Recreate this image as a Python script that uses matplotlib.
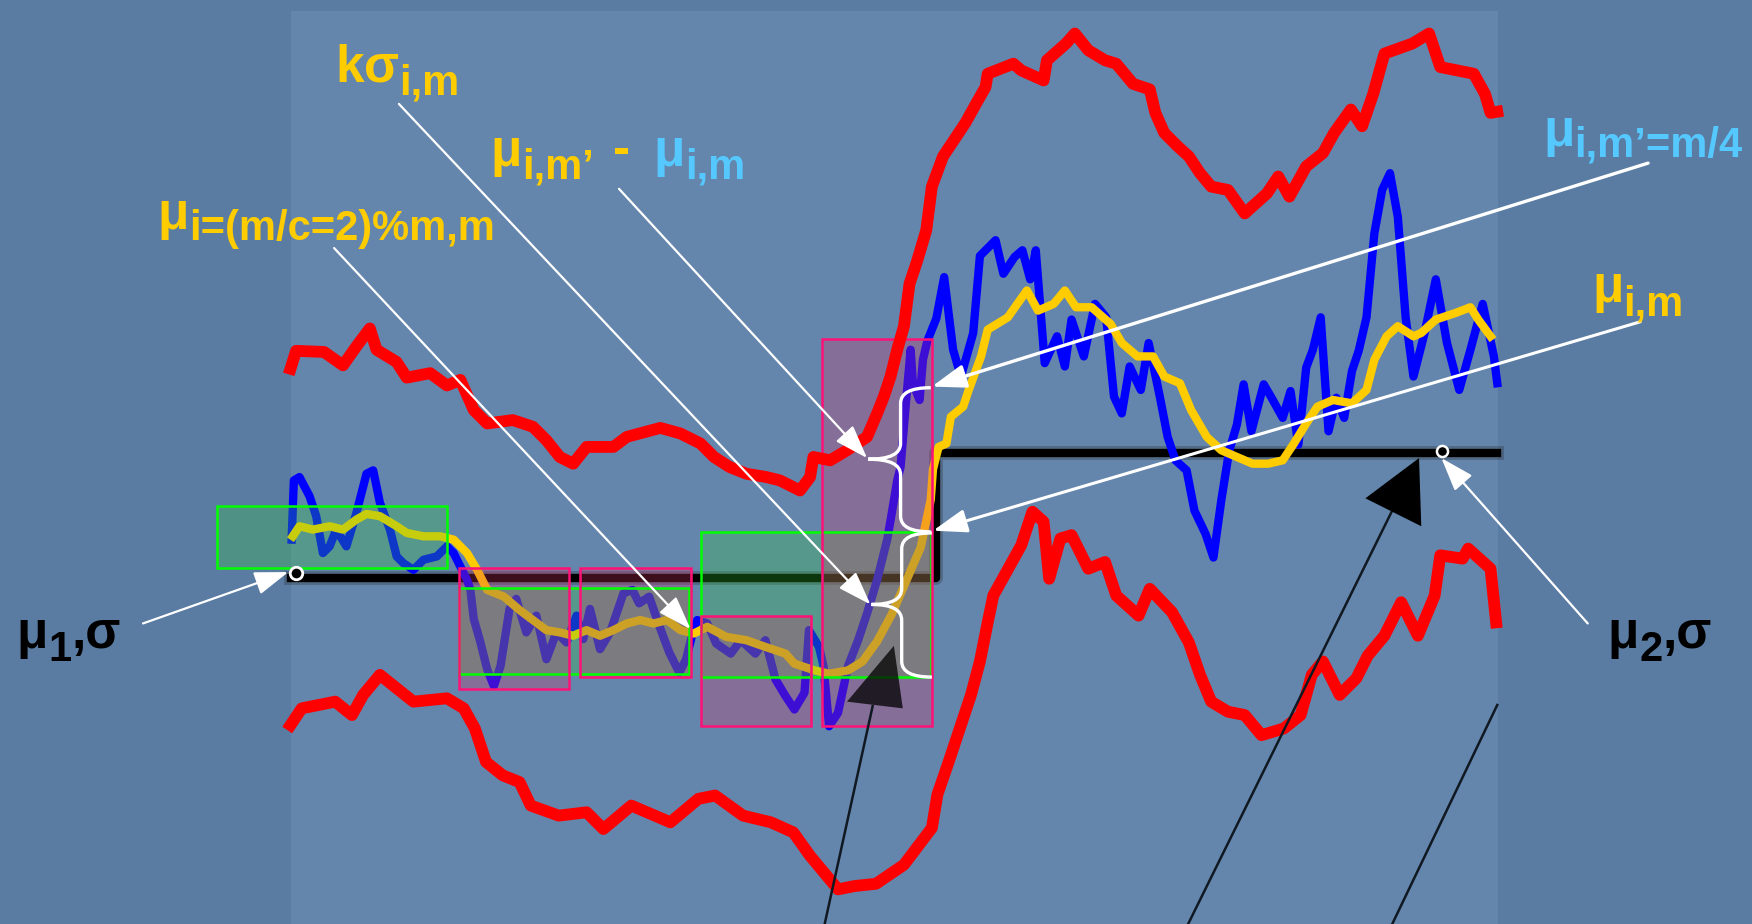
import matplotlib
matplotlib.use("Agg")
import matplotlib.pyplot as plt
from matplotlib.patches import Rectangle, Polygon, PathPatch
from matplotlib.path import Path

# ==============================
# Datos (unidades de la diapositiva, y crece hacia abajo)
# ==============================

# banda superior (mu + k*sigma)
upper_x = [260, 265, 290, 307, 319, 331, 337, 355, 364, 385, 400, 412, 424, 436, 459, 477,
           489, 501, 513, 525, 549, 561, 591, 609, 627, 639, 653, 668, 686, 698, 716, 725,
           728, 743, 758, 776, 785, 791, 797, 803, 809, 814, 821, 829, 834, 844, 854, 864,
           874, 882, 884, 907, 914, 934, 937, 954, 962, 974, 989, 999, 1014, 1029, 1034,
           1042, 1054, 1064, 1074, 1084, 1099, 1114, 1134, 1144, 1154, 1169, 1184, 1194,
           1209, 1219, 1229, 1239, 1264, 1279, 1289, 1304, 1319, 1329, 1334, 1340]
upper_y = [330, 314, 315, 327, 310, 294, 313, 324, 338, 334, 345, 340, 367, 379, 376, 382,
           394, 409, 415, 400, 400, 391, 383, 388, 397, 409, 418, 424, 427, 430, 439, 427,
           409, 412, 403, 391, 370, 355, 337, 313, 292, 254, 233, 206, 167, 140, 125, 110,
           92, 78, 66, 57, 63, 72, 54, 39, 30, 45, 54, 57, 75, 80, 101,
           119, 131, 140, 155, 167, 170, 191, 173, 158, 176, 149, 137, 119,
           98, 113, 84, 48, 39, 30, 60, 63, 66, 84, 101, 100]

# banda inferior (mu - k*sigma)
lower_x = [260, 270, 300, 315, 325, 340, 355, 370, 400, 415, 425, 435, 450, 465, 475, 500,
           525, 540, 565, 600, 625, 640, 665, 690, 710, 725, 740, 750, 765, 784, 809, 834,
           839, 849, 859, 869, 877, 884, 889, 899, 914, 924, 934, 939, 949, 959, 974, 989,
           999, 1019, 1029, 1049, 1064, 1074, 1084, 1099, 1114, 1129, 1149, 1164, 1174,
           1184, 1199, 1214, 1224, 1239, 1254, 1269, 1284, 1289, 1309, 1314, 1334, 1339]
lower_y = [649, 634, 628, 640, 622, 604, 616, 628, 625, 634, 652, 682, 694, 700, 721, 730,
           727, 742, 721, 736, 715, 712, 730, 736, 745, 766, 784, 796, 793, 791, 774, 741,
           711, 682, 652, 622, 592, 557, 533, 515, 488, 458, 467, 518, 482, 479, 509, 503,
           533, 551, 527, 548, 575, 604, 628, 637, 640, 658, 652, 640, 604,
           592, 622, 607, 587, 569, 539, 569, 533, 497, 500, 491, 509, 557]

# senal original (azul)
signal_x = [261, 263, 268, 277, 283, 289, 295, 301, 310, 319, 328, 334, 340, 349, 355, 361,
            370, 379, 391, 400, 406, 412, 418, 421, 424, 430, 436, 442, 448, 456, 462, 471,
            480, 489, 498, 507, 516, 522, 528, 537, 546, 558, 566, 572, 581, 590, 599, 608,
            614, 620, 624, 633, 641, 654, 663, 676, 685, 694, 703, 711, 720, 724, 733, 737,
            742, 750, 759, 768, 776, 785, 794, 798, 803, 806, 811, 815, 817, 823, 826, 830,
            838, 845, 853, 860, 871, 877, 891, 898, 908, 915, 922, 927, 935, 946, 953, 959,
            970, 980, 990, 997, 1004, 1011, 1021, 1028, 1038, 1045, 1052, 1062, 1069, 1079,
            1086, 1093, 1100, 1107, 1113, 1120, 1131, 1138, 1148, 1155, 1162, 1169, 1175,
            1182, 1189, 1196, 1203, 1210, 1216, 1223, 1230, 1237, 1244, 1251, 1258, 1265,
            1275, 1285, 1295, 1306, 1316, 1327, 1337, 1340]
signal_y = [483, 430, 427, 444, 462, 495, 489, 474, 489, 459, 424, 421, 450, 474, 498, 504,
            510, 501, 498, 489, 495, 507, 519, 528, 554, 575, 599, 614, 596, 545, 536, 566,
            551, 590, 566, 575, 551, 572, 545, 581, 566, 531, 528, 540, 534, 560, 584, 602,
            590, 566, 555, 558, 576, 585, 573, 585, 573, 608, 623, 635, 620, 564, 579, 596,
            650, 638, 596, 573, 549, 519, 483, 460, 430, 418, 358, 313, 343, 358, 322, 305,
            285, 248, 313, 337, 298, 229, 215, 245, 230, 224, 250, 224, 325, 301, 328, 286,
            319, 272, 284, 355, 370, 328, 349, 307, 355, 391, 412, 421, 457, 478,
            499, 448, 404, 380, 344, 386, 344, 356, 374, 350, 398, 329, 313,
            284, 386, 356, 374, 332, 314, 284, 209, 170, 155, 194, 284, 337,
            298, 250, 307, 349, 313, 272, 319, 343]

# media movil (amarilla)
mean_x = [262, 268, 280, 295, 307, 319, 328, 340, 355, 364, 379, 394, 406, 418, 427, 436,
          451, 465, 477, 489, 501, 513, 525, 537, 549, 561, 573, 585, 597, 609, 621, 633,
          650, 668, 685, 703, 711, 729, 742, 759, 772, 785, 798, 811, 824, 829, 833, 835,
          840, 847, 851, 862, 867, 878, 884, 902, 919, 929, 943, 953, 963, 977, 994, 1004,
          1018, 1032, 1042, 1056, 1066, 1080, 1093, 1107, 1121, 1135, 1148, 1158, 1169,
          1179, 1193, 1210, 1223, 1230, 1241, 1251, 1265, 1272, 1285, 1303, 1316, 1323, 1334]
mean_y = [480, 471, 474, 471, 474, 465, 460, 462, 471, 477, 480, 480, 483, 495, 510, 528,
          534, 546, 555, 564, 566, 569, 564, 569, 564, 558, 555, 558, 555, 564, 567, 561,
          570, 573, 579, 585, 594, 600, 603, 600, 592, 574, 550, 520, 490, 466, 447, 420,
          400, 397, 373, 364, 349, 319, 295, 284, 260, 278, 272, 260, 275, 275, 290, 307,
          319, 319, 337, 343, 367, 391, 403, 409, 415, 415, 412, 397, 379,
          364, 358, 361, 349, 322, 301, 292, 301, 298, 286, 280, 275, 286, 301]

# niveles mu1 / mu2 y punto de cambio
mu1_level = 517
mu2_level = 405
change_x = 838
start_x = 260
end_x = 1340

# ventanas (x0, y0, x1, y1)
green_boxes = [(194, 453, 400, 508), (411, 526, 617, 603), (627, 476, 833, 606)]
pink_boxes = [(411, 508, 509, 617), (519, 508, 618, 606), (627, 551, 726, 650), (736, 303, 834, 650)]

YELLOW = "#ffcc00"
CYAN = "#55c8ff"
FONT = ["Liberation Sans", "DejaVu Sans"]

fig = plt.figure(figsize=(17.52, 9.24), dpi=100)
fig.patch.set_facecolor("#5a7ca3")
ax = fig.add_axes([0, 0, 1, 1])
ax.set_xlim(0, 1568)
ax.set_ylim(827, 0)
ax.axis("off")

# zona clara del grafico
ax.add_patch(Rectangle((260, 10), 1081, 830, facecolor="#6486ac", edgecolor="none", zorder=0))

# escalon mu1 -> mu2
step_x = [start_x, change_x, change_x, end_x]
step_y = [mu1_level, mu1_level, mu2_level, mu2_level]
ax.plot(step_x, step_y, color="#30343c", lw=10, alpha=0.35, zorder=2.5, solid_joinstyle="round")
ax.plot(step_x, step_y, color="black", lw=6, zorder=3, solid_joinstyle="round")

ax.plot(signal_x, signal_y, color="#0000ff", lw=6, solid_joinstyle="round", zorder=4)
ax.plot(mean_x, mean_y, color=YELLOW, lw=6, solid_joinstyle="round", zorder=4.5)

# ventanas semitransparentes
for x0, y0, x1, y1 in green_boxes:
    ax.add_patch(Rectangle((x0, y0), x1 - x0, y1 - y0, facecolor="#33cc33", alpha=0.27,
                           edgecolor="none", zorder=6))
    ax.add_patch(Rectangle((x0, y0), x1 - x0, y1 - y0, facecolor="none",
                           edgecolor="#00ff00", lw=1.8, zorder=6.1))
for x0, y0, x1, y1 in pink_boxes:
    ax.add_patch(Rectangle((x0, y0), x1 - x0, y1 - y0, facecolor="#dd3366", alpha=0.28,
                           edgecolor="none", zorder=6))
    ax.add_patch(Rectangle((x0, y0), x1 - x0, y1 - y0, facecolor="none",
                           edgecolor="#ff1177", lw=1.8, zorder=6.1))

# bandas (encima de las ventanas)
ax.plot(upper_x, upper_y, color="#ff0000", lw=8.5, solid_joinstyle="round", zorder=6.5)
ax.plot(lower_x, lower_y, color="#ff0000", lw=8.5, solid_joinstyle="round", zorder=6.5)

# flechas negras (puntas triangulares)
ax.plot([733, 781], [850, 632], color="#101822", lw=1.8, zorder=7)
ax.add_patch(Polygon([(758, 628), (808, 634), (800, 578)], closed=True,
                     facecolor="black", alpha=0.75, edgecolor="none", zorder=7))
ax.plot([1052, 1246], [850, 457], color="#101822", lw=1.8, zorder=7)
ax.add_patch(Polygon([(1222, 446), (1270, 410), (1272, 471)], closed=True,
                     facecolor="black", edgecolor="none", zorder=7))
ax.plot([1235, 1340], [850, 631], color="#101822", lw=1.8, zorder=7)


def arrow(x0, y0, x1, y1, lw=1.6, ms=16):
    ax.annotate("", xy=(x1, y1), xytext=(x0, y0), zorder=8,
                arrowprops=dict(arrowstyle="-|>,head_length=1.3,head_width=0.45",
                                color="white", lw=lw, shrinkA=0, shrinkB=0,
                                mutation_scale=ms))


def brace(x_end, x_spine, x_tip, y_top, y_tip, y_bot, r=14):
    verts = [(x_end, y_top), (x_spine, y_top), (x_spine, y_top + r),
             (x_spine, y_tip - r),
             (x_spine, y_tip), (x_tip, y_tip),
             (x_spine, y_tip), (x_spine, y_tip + r),
             (x_spine, y_bot - r),
             (x_spine, y_bot), (x_end, y_bot)]
    codes = [Path.MOVETO, Path.CURVE3, Path.CURVE3, Path.LINETO, Path.CURVE3, Path.CURVE3,
             Path.CURVE3, Path.CURVE3, Path.LINETO, Path.CURVE3, Path.CURVE3]
    ax.add_patch(PathPatch(Path(verts, codes), facecolor="none", edgecolor="white",
                           lw=2.4, zorder=8))


brace(833, 806, 777, 347, 411, 476)
brace(834, 807, 780, 477, 541, 606)

arrow(357, 93, 779, 541)
arrow(554, 169, 776, 410)
arrow(299, 222, 618, 563)
arrow(1475, 146, 834, 346, lw=2.4)
arrow(1468, 288, 835, 475, lw=2.2)
arrow(1421, 558, 1290, 410)
arrow(128, 558, 258, 512)

# puntos mu1 y mu2
ax.plot([265], [mu1_level - 4], "o", ms=9, mfc="black", mec="white", mew=2, zorder=9)
ax.plot([1291], [mu2_level - 1], "o", ms=8, mfc="black", mec="white", mew=1.8, zorder=9)

# ==============================
# Textos
# ==============================
renderer = fig.canvas.get_renderer()
inv = ax.transData.inverted()
MAIN = 37
SUB = 30


def write(x, y, parts):
    for s, size, color, dy in parts:
        t = ax.text(x, y + dy, s, fontsize=size, color=color, fontweight="bold",
                    family=FONT, ha="left", va="baseline", zorder=10)
        bb = t.get_window_extent(renderer=renderer)
        x = x + inv.transform((bb.x1, 0))[0] - inv.transform((bb.x0, 0))[0]
    return x


write(300, 73, [("k", MAIN, YELLOW, 0), ("σ", MAIN, YELLOW, 0), ("i,m", SUB, YELLOW, 12)])
write(439, 149, [("μ", MAIN, YELLOW, 0), ("i,m’", SUB, YELLOW, 11)])
ax.text(556, 147, "-", fontsize=MAIN, color=YELLOW, fontweight="bold", family=FONT,
        ha="center", va="baseline", zorder=10)
write(585, 149, [("μ", MAIN, CYAN, 0), ("i,m", SUB, CYAN, 11)])
write(141, 205, [("μ", MAIN, YELLOW, 0), ("i=(m/c=2)%m,m", SUB, YELLOW, 10)])
write(1381, 131, [("μ", MAIN, CYAN, 0), ("i,m’=m/4", SUB, CYAN, 9)])
write(1425, 270, [("μ", MAIN, YELLOW, 0), ("i,m", SUB, YELLOW, 12)])
write(1439, 580, [("μ", MAIN, "black", 0), ("2", SUB, "black", 12), (",σ", MAIN, "black", 0)])
write(15, 580, [("μ", MAIN, "black", 0), ("1", SUB, "black", 12), (",σ", MAIN, "black", 0)])

plt.savefig("out.png", dpi=100, facecolor=fig.get_facecolor())
